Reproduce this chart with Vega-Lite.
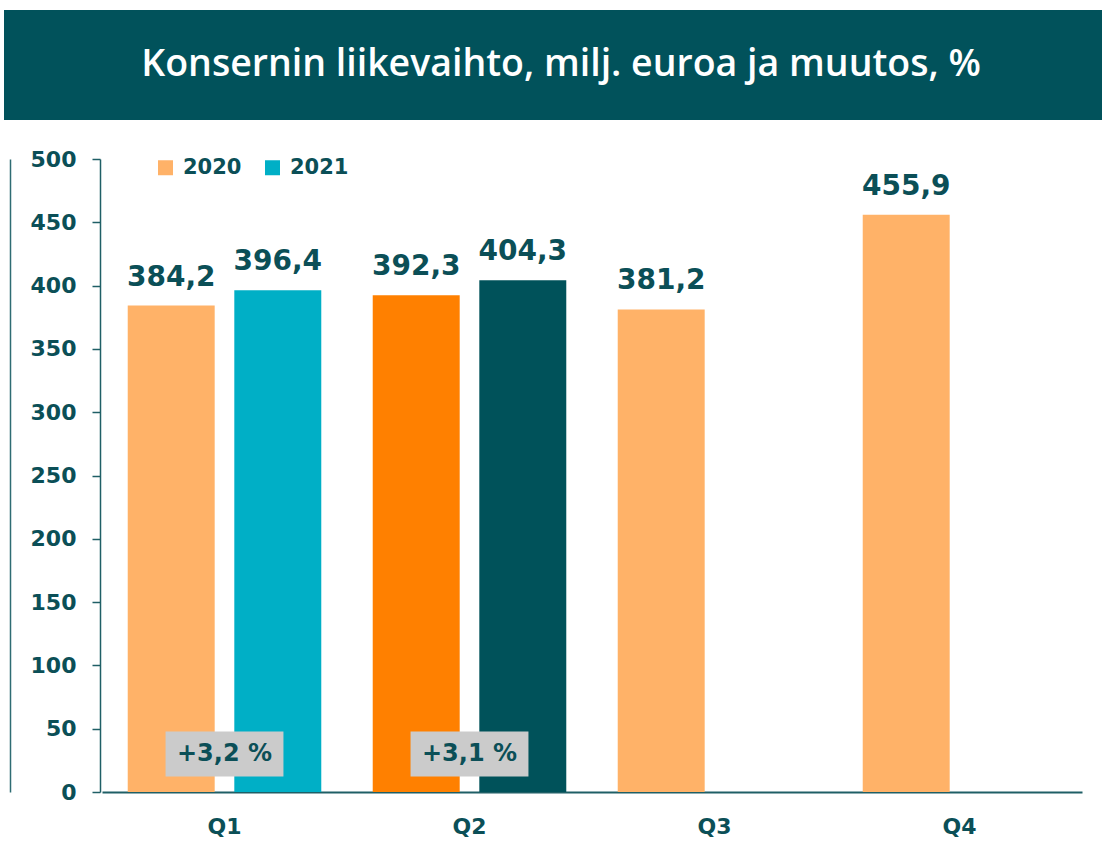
{
  "$schema": "https://vega.github.io/schema/vega-lite/v6.json",
  "padding": {"left": 4, "top": 10, "right": 0, "bottom": 0},
  "background": "white",
  "config": {
    "view": {"stroke": null},
    "concat": {"spacing": 28},
    "font": "DejaVu Sans"
  },
  "vconcat": [
    {
      "width": 1098,
      "height": 110,
      "view": {"fill": "#01525B", "stroke": null},
      "data": {"values": [{"title": "Konsernin liikevaihto, milj. euroa ja muutos, %"}]},
      "mark": {"type": "text", "color": "white", "font": "Open Sans", "fontSize": 37.5, "fontWeight": 600, "dx": 8},
      "encoding": {"text": {"field": "title", "type": "nominal"}}
    },
    {
      "width": 1098,
      "height": 633,
      "resolve": {"axis": {"y": "independent"}},
      "layer": [
        {
          "data": {
            "values": [
              {"quarter": "Q1", "year": "2020", "value": 384.2, "label": "384,2"},
              {"quarter": "Q1", "year": "2021", "value": 396.4, "label": "396,4"},
              {"quarter": "Q2", "year": "2020", "value": 392.3, "label": "392,3"},
              {"quarter": "Q2", "year": "2021", "value": 404.3, "label": "404,3"},
              {"quarter": "Q3", "year": "2020", "value": 381.2, "label": "381,2"},
              {"quarter": "Q4", "year": "2020", "value": 455.9, "label": "455,9"}
            ]
          },
          "encoding": {
            "x": {
              "field": "quarter", "type": "nominal",
              "scale": {"domain": ["Q1", "Q2", "Q3", "Q4"], "range": [98, 1078], "paddingInner": 0.21, "paddingOuter": 0.105},
              "axis": {
                "title": null, "orient": "bottom", "ticks": false,
                "domainColor": "#1F5F66", "domainWidth": 2,
                "labelFont": "DejaVu Sans", "labelFontWeight": "bold", "labelFontSize": 22,
                "labelColor": "#0B4F57", "labelPadding": 24, "labelAngle": 0
              }
            },
            "xOffset": {"field": "year", "type": "nominal", "scale": {"domain": ["2020", "2021"], "paddingInner": 0.184, "paddingOuter": 0}},
            "y": {
              "field": "value", "type": "quantitative",
              "scale": {"domain": [0, 500], "nice": false},
              "axis": {
                "title": null, "orient": "left", "offset": -96, "grid": false,
                "values": [0, 50, 100, 150, 200, 250, 300, 350, 400, 450, 500],
                "tickSize": 8, "tickColor": "#1F5F66", "tickWidth": 1.5,
                "domainColor": "#1F5F66", "domainWidth": 1.5,
                "labelFont": "DejaVu Sans", "labelFontWeight": "bold", "labelFontSize": 22,
                "labelColor": "#0B4F57", "labelPadding": 16
              }
            }
          },
          "layer": [
            {
              "mark": {"type": "bar"},
              "encoding": {
                "color": {
                  "field": "year", "type": "nominal",
                  "scale": {"domain": ["2020", "2021"], "range": ["#FFB268", "#00AFC6"]},
                  "condition": [
                    {"test": "datum.quarter === 'Q2' && datum.year === '2020'", "value": "#FF8000"},
                    {"test": "datum.quarter === 'Q2' && datum.year === '2021'", "value": "#00525A"}
                  ],
                  "legend": {
                    "title": null, "orient": "none", "direction": "horizontal",
                    "legendX": 151, "legendY": 147,
                    "symbolType": "square", "symbolSize": 225, "symbolStrokeWidth": 0,
                    "labelFont": "DejaVu Sans", "labelFontWeight": "bold", "labelFontSize": 21,
                    "labelColor": "#0B4F57", "columnPadding": 20, "labelOffset": 7
                  }
                }
              }
            },
            {
              "mark": {"type": "text", "baseline": "alphabetic", "dy": -20, "font": "DejaVu Sans", "fontWeight": "bold", "fontSize": 28, "color": "#0B4F57"},
              "encoding": {"text": {"field": "label", "type": "nominal"}}
            }
          ]
        },
        {
          "data": {
            "values": [
              {"quarter": "Q1", "change": "+3,2 %"},
              {"quarter": "Q2", "change": "+3,1 %"}
            ]
          },
          "encoding": {
            "x": {"field": "quarter", "type": "nominal"},
            "y": {
              "datum": 30, "type": "quantitative",
              "axis": {"orient": "left", "offset": -6, "title": null, "labels": false, "ticks": false, "grid": false, "domainColor": "#2E6C73", "domainWidth": 1.5}
            }
          },
          "layer": [
            {
              "mark": {"type": "point", "shape": "M-1.31,-0.5H1.31V0.5H-1.31Z", "filled": true, "color": "#CBCBCB", "opacity": 1, "size": 8100}
            },
            {
              "mark": {"type": "text", "font": "DejaVu Sans", "fontWeight": "bold", "fontSize": 24, "color": "#0B4F57", "baseline": "middle"},
              "encoding": {"text": {"field": "change", "type": "nominal"}}
            }
          ]
        }
      ]
    }
  ]
}
